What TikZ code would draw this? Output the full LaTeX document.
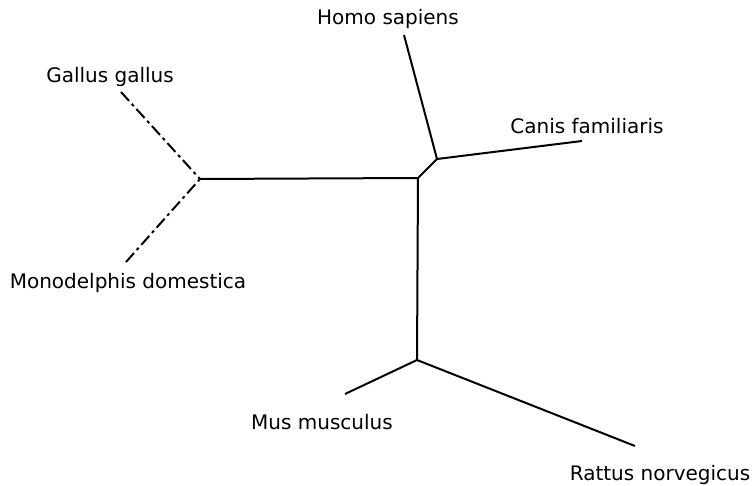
\documentclass[tikz,border=0pt]{standalone}
\usepackage{fontspec}
\setmainfont{DejaVu Sans}
\begin{document}
\begin{tikzpicture}[x=1pt,y=-1pt,
  br/.style={line width=2pt},
  dbr/.style={line width=2pt,dash pattern=on 12pt off 4pt on 3pt off 4pt},
  lbl/.style={font=\fontsize{20}{24}\selectfont,inner sep=0pt}]
\useasboundingbox (0,0) rectangle (752,486);
\coordinate (L) at (200,179);
\coordinate (C) at (418,178);
\coordinate (U) at (437,159);
\coordinate (D) at (417,360);
\coordinate (gg) at (121,92);
\coordinate (md) at (126,262);
\coordinate (hs) at (404,35);
\coordinate (cf) at (582,141);
\coordinate (mm) at (345,394);
\coordinate (rn) at (635,446);
\draw[dbr] (gg) -- (L);
\draw[dbr] (md) -- (L);
\draw[br,line join=round] (L) -- (C) -- (U);
\draw[br] (U) -- (hs);
\draw[br] (U) -- (cf);
\draw[br] (C) -- (D);
\draw[br] (D) -- (mm);
\draw[br] (D) -- (rn);
\node[lbl] (tgg) at (110,77) {Gallus gallus};
\node[lbl] (tmd) at (128,283) {Monodelphis domestica};
\node[lbl] (ths) at (388,19) {Homo sapiens};
\node[lbl] (tcf) at (587,126) {Canis familiaris};
\node[lbl] (tmm) at (322,422) {Mus musculus};
\node[lbl] (trn) at (660,475) {Rattus norvegicus};
\end{tikzpicture}
\end{document}
